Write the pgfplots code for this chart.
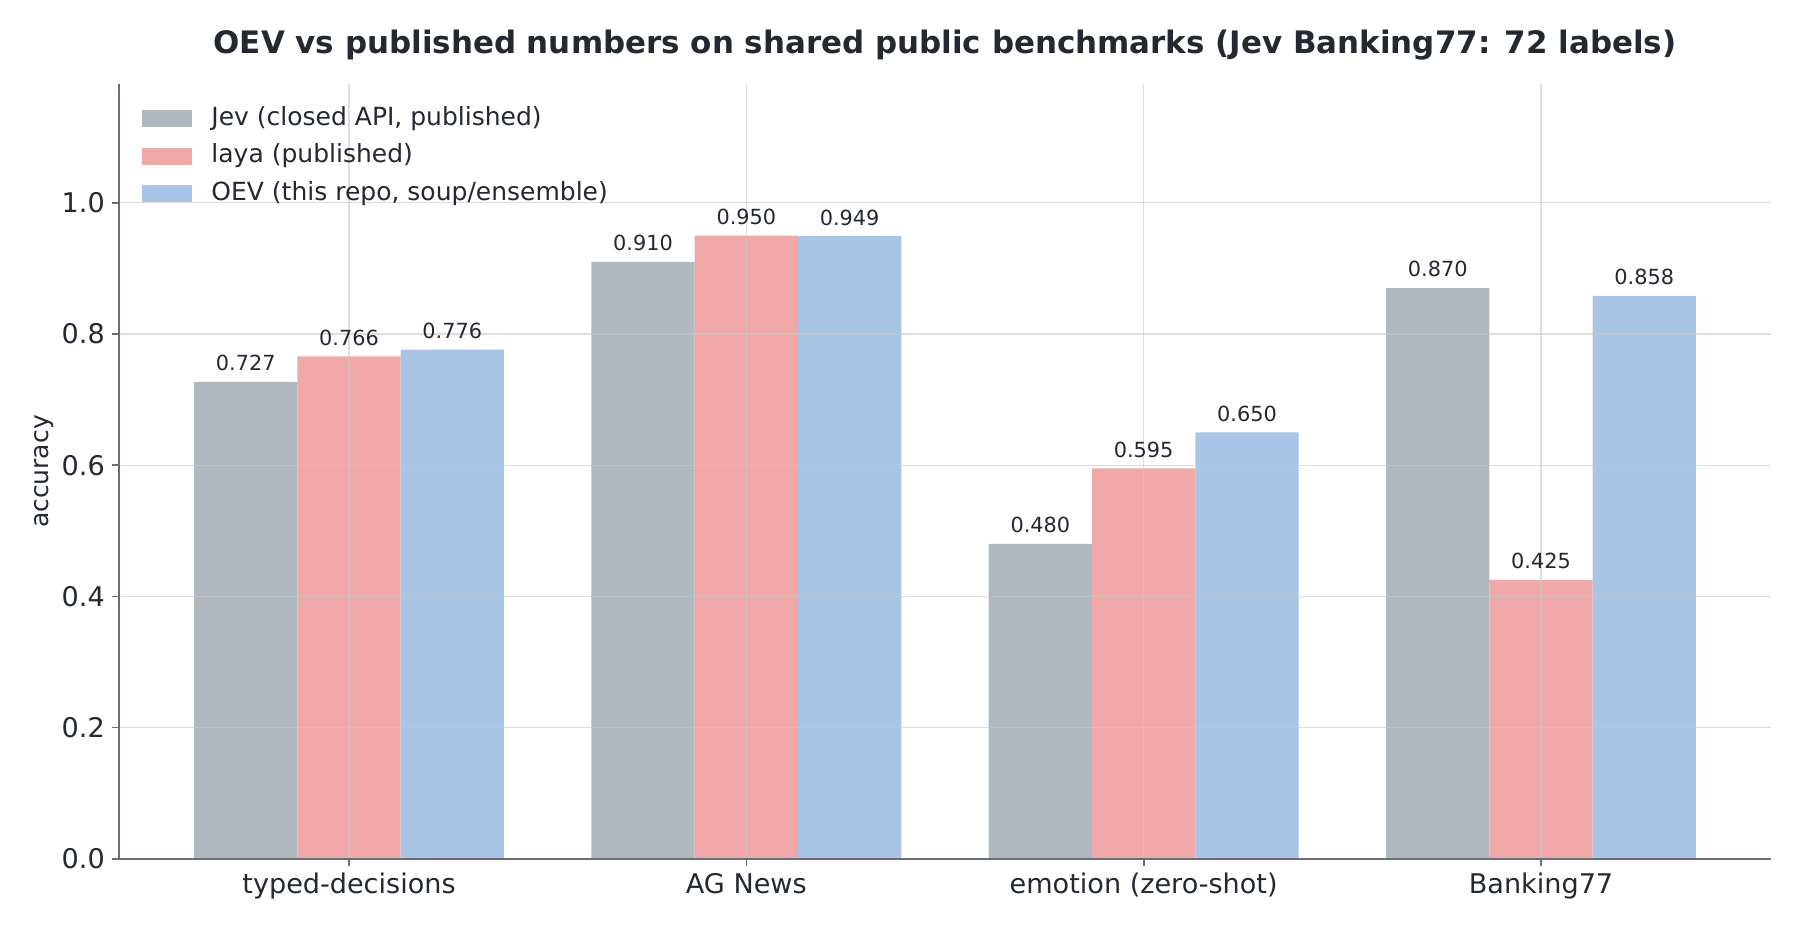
\documentclass[border=0pt]{standalone}
\usepackage{pgfplots}
\pgfplotsset{compat=1.18}
\usepackage{fontspec}
\setmainfont{DejaVu Sans}

\definecolor{jevgrey}{RGB}{176,184,192}
\definecolor{layared}{RGB}{240,168,168}
\definecolor{oevblue}{RGB}{168,197,229}
\definecolor{spine}{RGB}{105,110,122}
\definecolor{txt}{RGB}{36,40,48}
\definecolor{gridc}{RGB}{200,200,200}

\begin{document}
\begin{tikzpicture}
\useasboundingbox (0,0) rectangle (864pt,446.4pt);
\begin{axis}[
    at={(57.1pt,34.2pt)}, anchor=south west,
    scale only axis, width=793pt, height=371.7pt,
    ybar, bar width=0.26,
    xmin=-0.579, xmax=3.579,
    ymin=0, ymax=1.1805,
    xtick={0,1,2,3},
    xticklabels={typed-decisions, AG News, emotion (zero-shot), Banking77},
    ytick={0,0.2,0.4,0.6,0.8,1.0},
    /pgf/number format/assume math mode=true,
    yticklabel={\pgfmathprintnumber[fixed,precision=1,zerofill]{\tick}},
    axis lines*=left,
    axis line style={spine, line width=0.8pt},
    tick align=outside, major tick length=3.5pt,
    tick style={spine, line width=0.8pt},
    ticklabel style={font=\fontsize{13}{15}\selectfont, text=txt},
    xticklabel style={anchor=north, inner sep=0pt, text height=9.5pt, text depth=3pt, yshift=-3.6pt},
    yticklabel style={anchor=east, inner sep=0pt, xshift=-3.1pt},
    grid=major,
    grid style={gridc, line width=0.6pt, opacity=0.6},
    axis on top,
    title={OEV vs published numbers on shared public benchmarks (Jev Banking77: 72 labels)},
    title style={at={(axis description cs:0.5,1)}, anchor=base, yshift=8.9pt,
        font=\fontsize{14.85}{18}\selectfont\bfseries, text=txt},
    ylabel={accuracy},
    every axis y label/.style={at={(axis description cs:0,0.5)}, xshift=-31.1pt,
        anchor=south, inner sep=0pt, rotate=90,
        font=\fontsize{12}{14}\selectfont, text=txt},
    nodes near coords,
    nodes near coords style={font=\fontsize{10}{12}\selectfont, text=txt,
        inner sep=0pt, anchor=south, yshift=5pt,
        /pgf/number format/.cd, fixed, precision=3, zerofill},
    legend style={at={(axis description cs:0,1)}, anchor=north west,
        xshift=10.9pt, yshift=-10.4pt, draw=none, fill=none, inner sep=0pt,
        font=\fontsize{12}{14}\selectfont, text=txt,
        nodes={inner sep=0pt, text height=9pt, text depth=3pt},
        row sep=6pt, column sep=9.3pt},
    legend cell align=left,
    legend image code/.code={\path[#1, draw=none] (0pt,-4.1pt) rectangle (24pt,4.1pt);},
]
\addplot[fill=jevgrey, draw=none, bar shift=-0.26]
    coordinates {(0,0.727) (1,0.910) (2,0.480) (3,0.870)};
\addlegendentry{Jev (closed API, published)}
\addplot[fill=layared, draw=none, bar shift=0]
    coordinates {(0,0.766) (1,0.950) (2,0.595) (3,0.425)};
\addlegendentry{laya (published)}
\addplot[fill=oevblue, draw=none, bar shift=0.26]
    coordinates {(0,0.776) (1,0.949) (2,0.650) (3,0.858)};
\addlegendentry{OEV (this repo, soup/ensemble)}
\end{axis}
\end{tikzpicture}
\end{document}
